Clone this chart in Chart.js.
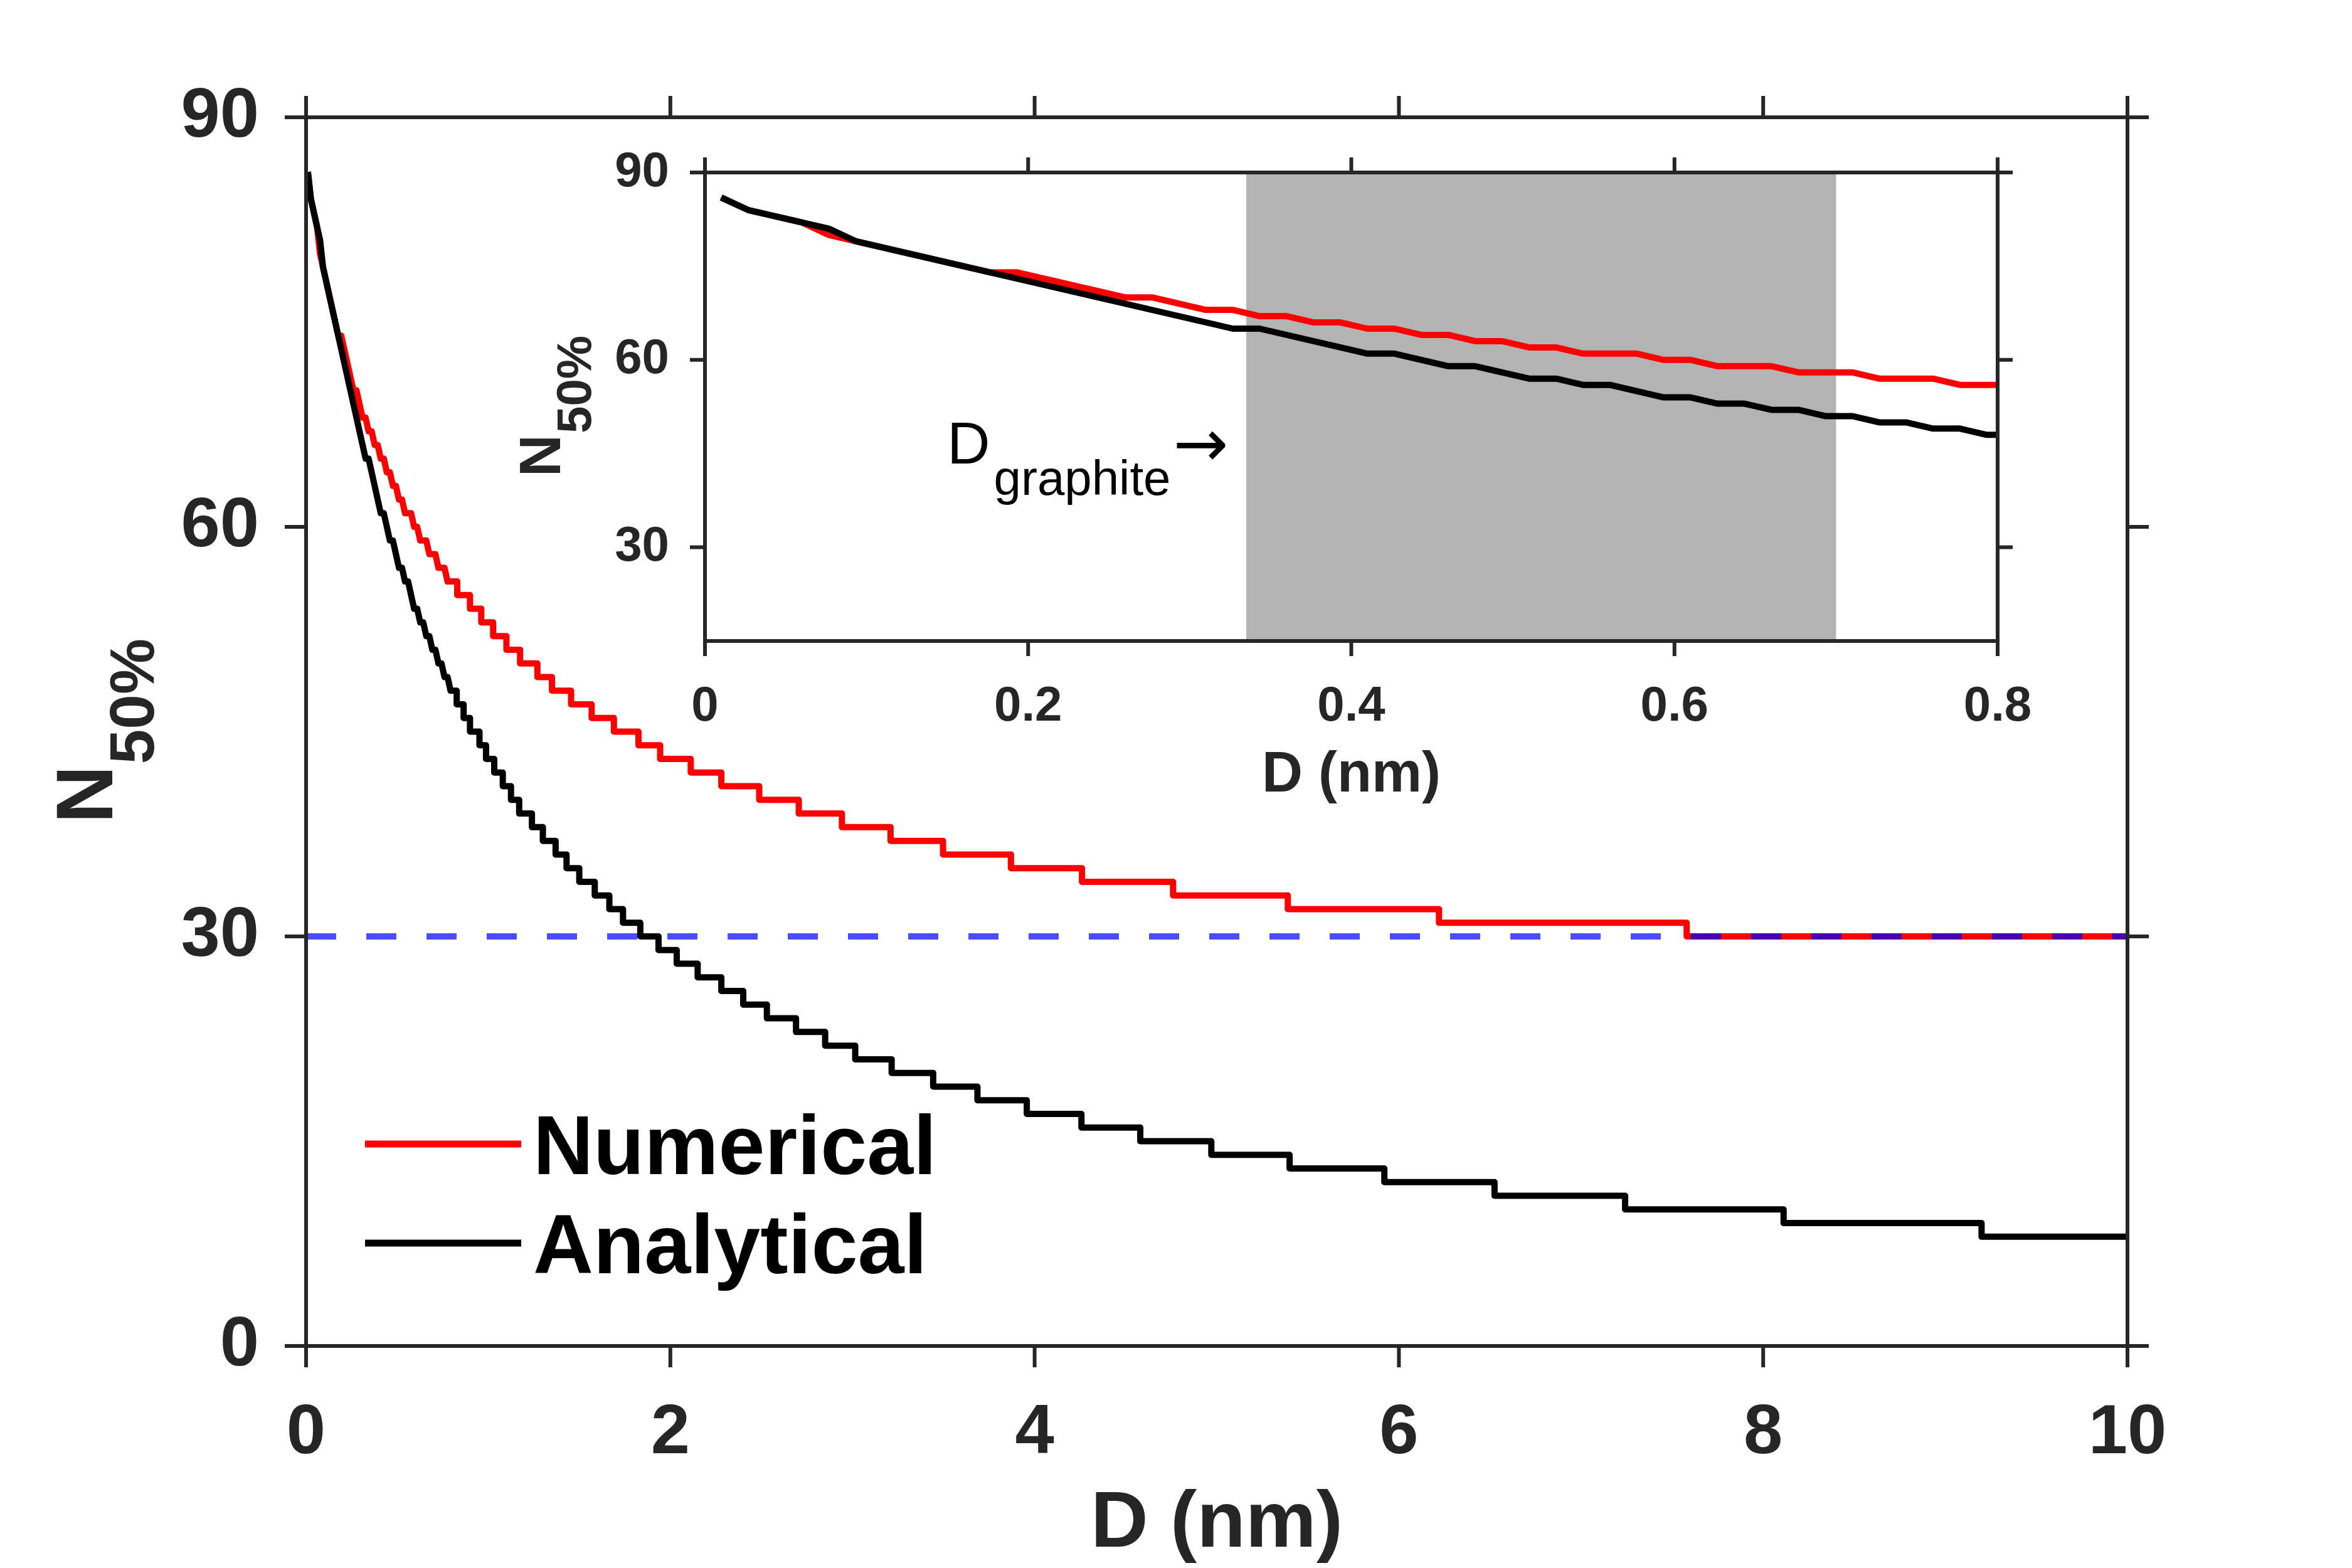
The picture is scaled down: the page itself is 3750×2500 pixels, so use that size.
<!DOCTYPE html>
<html>
<head>
<meta charset="utf-8">
<script src="https://cdn.jsdelivr.net/npm/chart.js@4.4.0/dist/chart.umd.min.js"></script>
<style>
  html, body { margin: 0; padding: 0; background: #fff; }
  #wrap { position: relative; width: 3750px; height: 2500px; }
  #main { position: absolute; left: 0; top: 0; }
  #inset { position: absolute; left: 700px; top: 150px; }
</style>
</head>
<body>
<div id="wrap">
  <canvas id="main" width="3750" height="2500"></canvas>
  <canvas id="inset" width="2600" height="1200"></canvas>
</div>
<script>
// D in nm, N50%.
// first part: sample points up to 0.8 nm (also what the inset shows)
const numHeadD = [0.01, 0.0267, 0.06, 0.0767, 0.0933, 0.1767, 0.1933, 0.26, 0.2767, 0.31,
                  0.3267, 0.3433, 0.36, 0.3767, 0.3933, 0.41, 0.4267, 0.4433, 0.46, 0.4767,
                  0.4933, 0.51, 0.5267, 0.5433, 0.5767, 0.5933, 0.61, 0.6267, 0.66, 0.6767,
                  0.71, 0.7267, 0.76, 0.7767, 0.80];
const numHeadN = [86, 84, 82, 80, 79, 74, 74, 70, 70, 68,
                  68, 67, 67, 66, 66, 65, 65, 64, 64, 63,
                  63, 62, 62, 61, 61, 60, 60, 59, 59, 58,
                  58, 57, 57, 56, 56];
// then staircase: D where the curve drops to the next N
const numStepD = [0.83, 0.90, 0.962, 1.027, 1.10, 1.175, 1.27, 1.35, 1.455, 1.568,
                  1.69, 1.825, 1.944, 2.112, 2.28, 2.488, 2.705, 2.942, 3.209, 3.497,
                  3.87, 4.26, 4.76, 5.39, 6.22, 7.58];
const numStepN = [55, 54, 53, 52, 51, 50, 49, 48, 47, 46,
                  45, 44, 43, 42, 41, 40, 39, 38, 37, 36,
                  35, 34, 33, 32, 31, 30];

const anaHeadD = [0.01, 0.0267, 0.0767, 0.0933, 0.3267, 0.3433, 0.41, 0.4267, 0.46, 0.4767,
                  0.51, 0.5267, 0.5433, 0.56, 0.5933, 0.61, 0.6267, 0.6433, 0.66, 0.6767,
                  0.6933, 0.71, 0.7267, 0.7433, 0.76, 0.7767, 0.7933];
const anaHeadN = [86, 84, 81, 79, 65, 65, 61, 61, 59, 59,
                  57, 57, 56, 56, 54, 54, 53, 53, 52, 52,
                  51, 51, 50, 50, 49, 49, 48];
const anaStepD = [0.827, 0.865, 0.90, 0.952, 0.988, 1.033, 1.08, 1.125, 1.17, 1.24,
                  1.30, 1.37, 1.43, 1.50, 1.585, 1.665, 1.74, 1.835, 1.935, 2.035,
                  2.15, 2.28, 2.40, 2.53, 2.69, 2.85, 3.015, 3.215, 3.443, 3.686,
                  3.957, 4.257, 4.58, 4.97, 5.40, 5.92, 6.525, 7.242, 8.112, 9.199];
const anaStepN = [47, 46, 45, 44, 43, 42, 41, 40, 39, 38,
                  37, 36, 35, 34, 33, 32, 31, 30, 29, 28,
                  27, 26, 25, 24, 23, 22, 21, 20, 19, 18,
                  17, 16, 15, 14, 13, 12, 11, 10, 9, 8];
const curveEndD = 10;

// N = 30 reference line
const refD = [0, 10];
const refN = [30, 30];

// graphite spacing band in the inset (nm)
const graphiteBand = [0.335, 0.70];

const mainXTicks = [0, 2, 4, 6, 8, 10];
const mainYTicks = [0, 30, 60, 90];
const insetXTicks = [0, 0.2, 0.4, 0.6, 0.8];
const insetYTicks = [30, 60, 90];

const AXIS = '#262626';
const FONT = '"Liberation Sans", Arial, Helvetica, sans-serif';

function buildCurve(headD, headN, stepD, stepN, endD) {
    const pts = headD.map((d, i) => ({x: d, y: headN[i]}));
    let prev = headN[headN.length - 1];
    stepD.forEach((d, i) => {
        pts.push({x: d, y: prev});
        pts.push({x: d, y: stepN[i]});
        prev = stepN[i];
    });
    pts.push({x: endD, y: prev});
    return pts;
}

const numPts = buildCurve(numHeadD, numHeadN, numStepD, numStepN, curveEndD);
const anaPts = buildCurve(anaHeadD, anaHeadN, anaStepD, anaStepN, curveEndD);
const refPts = refD.map((d, i) => ({x: d, y: refN[i]}));

// box round the plot with outward ticks on all four sides
const boxTicks = {
    id: 'boxTicks',
    afterDatasetsDraw(chart, args, opts) {
        const {ctx, chartArea: a, scales: {x, y}} = chart;
        ctx.save();
        ctx.strokeStyle = AXIS;
        ctx.lineWidth = opts.width;
        ctx.beginPath();
        ctx.rect(a.left, a.top, a.right - a.left, a.bottom - a.top);
        x.ticks.forEach(t => {
            const px = x.getPixelForValue(t.value);
            ctx.moveTo(px, a.bottom); ctx.lineTo(px, a.bottom + opts.len);
            ctx.moveTo(px, a.top); ctx.lineTo(px, a.top - opts.len);
        });
        y.ticks.forEach(t => {
            const py = y.getPixelForValue(t.value);
            ctx.moveTo(a.left, py); ctx.lineTo(a.left - opts.len, py);
            ctx.moveTo(a.right, py); ctx.lineTo(a.right + opts.len, py);
        });
        ctx.stroke();
        ctx.restore();
    }
};

// rotated "N" with subscript "50%"
const yTitle = {
    id: 'yTitle',
    afterDraw(chart, args, o) {
        const {ctx, chartArea: a} = chart;
        const cy = (a.top + a.bottom) / 2;
        ctx.save();
        ctx.fillStyle = AXIS;
        ctx.translate(o.x, cy);
        ctx.rotate(-Math.PI / 2);
        ctx.textBaseline = 'alphabetic';
        ctx.textAlign = 'left';
        ctx.font = 'bold ' + o.size + 'px ' + FONT;
        const wN = ctx.measureText('N').width;
        ctx.font = 'bold ' + o.subSize + 'px ' + FONT;
        const wS = ctx.measureText('50%').width;
        const start = -(wN + wS) / 2;
        ctx.font = 'bold ' + o.size + 'px ' + FONT;
        ctx.fillText('N', start, 0);
        ctx.font = 'bold ' + o.subSize + 'px ' + FONT;
        ctx.fillText('50%', start + wN + 2, o.subDrop);
        ctx.restore();
    }
};

const legendBox = {
    id: 'legendBox',
    afterDraw(chart, args, o) {
        const {ctx} = chart;
        ctx.save();
        o.items.forEach(it => {
            ctx.strokeStyle = it.color;
            ctx.lineWidth = 11;
            ctx.beginPath();
            ctx.moveTo(o.lineX0, it.y);
            ctx.lineTo(o.lineX1, it.y);
            ctx.stroke();
            ctx.fillStyle = '#000';
            ctx.font = 'bold ' + o.size + 'px ' + FONT;
            ctx.textBaseline = 'alphabetic';
            ctx.fillText(it.text, o.textX, it.y + o.baseOff);
        });
        ctx.restore();
    }
};

const band = {
    id: 'band',
    beforeDatasetsDraw(chart) {
        const {ctx, chartArea: a, scales: {x}} = chart;
        ctx.save();
        ctx.fillStyle = '#ffffff';
        ctx.fillRect(a.left, a.top, a.right - a.left, a.bottom - a.top);
        const x0 = x.getPixelForValue(graphiteBand[0]);
        const x1 = x.getPixelForValue(graphiteBand[1]);
        ctx.fillStyle = '#b3b3b3';
        ctx.fillRect(x0, a.top, x1 - x0, a.bottom - a.top);
        ctx.restore();
    }
};

const graphiteLabel = {
    id: 'graphiteLabel',
    afterDatasetsDraw(chart) {
        const {ctx, chartArea: a} = chart;
        const x0 = a.left + 386, base = a.top + 464;
        ctx.save();
        ctx.fillStyle = '#000';
        ctx.textBaseline = 'alphabetic';
        ctx.font = '95px ' + FONT;
        ctx.fillText('D', x0, base);
        const wD = ctx.measureText('D').width;
        ctx.font = '78px ' + FONT;
        ctx.fillText('graphite', x0 + wD + 6, base + 50);
        const wG = ctx.measureText('graphite').width;
        ctx.font = '105px "DejaVu Sans", sans-serif';
        ctx.textBaseline = 'middle';
        ctx.fillText('\u2192', x0 + wD + 6 + wG + 4, base - 23);
        ctx.restore();
    }
};

function tickFont(size) {
    return {family: FONT, weight: 'bold', size: size};
}

new Chart(document.getElementById('main'), {
    type: 'line',
    data: {
        datasets: [
            {label: 'N = 30', data: refPts, borderColor: 'rgba(0,0,255,0.7)', borderWidth: 10,
             borderDash: [48, 48], pointRadius: 0, order: 0},
            {label: 'Analytical', data: anaPts, borderColor: '#000000', borderWidth: 10,
             pointRadius: 0, borderJoinStyle: 'round', order: 1},
            {label: 'Numerical', data: numPts, borderColor: '#ff0000', borderWidth: 10,
             pointRadius: 0, borderJoinStyle: 'round', order: 2}
        ]
    },
    options: {
        responsive: false,
        animation: false,
        devicePixelRatio: 1,
        layout: {autoPadding: false, padding: {left: 0, right: 358, top: 187, bottom: 0}},
        elements: {line: {tension: 0}},
        scales: {
            x: {
                type: 'linear', min: 0, max: 10,
                afterBuildTicks: s => { s.ticks = mainXTicks.map(v => ({value: v})); },
                afterFit: s => { s.height = 354; },
                ticks: {color: AXIS, font: tickFont(112), padding: 73, maxRotation: 0,
                        autoSkip: false, callback: v => String(v)},
                grid: {display: false, drawTicks: false},
                border: {display: false},
                title: {display: true, text: 'D (nm)', color: AXIS,
                        font: {family: FONT, weight: 'bold', size: 127, lineHeight: 1},
                        padding: {top: 0, bottom: 6}}
            },
            y: {
                type: 'linear', min: 0, max: 90,
                afterBuildTicks: s => { s.ticks = mainYTicks.map(v => ({value: v})); },
                afterFit: s => { s.width = 488; },
                ticks: {color: AXIS, font: tickFont(112), padding: 75, autoSkip: false,
                        callback: v => String(v)},
                grid: {display: false, drawTicks: false},
                border: {display: false}
            }
        },
        plugins: {
            legend: {display: false},
            tooltip: {enabled: false},
            boxTicks: {width: 6, len: 34},
            yTitle: {x: 179, size: 128, subSize: 100, subDrop: 66},
            legendBox: {lineX0: 582, lineX1: 831, textX: 850, size: 133, baseOff: 48,
                        items: [{text: 'Numerical', color: '#ff0000', y: 1824},
                                {text: 'Analytical', color: '#000000', y: 1982}]}
        }
    },
    plugins: [boxTicks, yTitle, legendBox]
});

new Chart(document.getElementById('inset'), {
    type: 'line',
    data: {
        datasets: [
            {label: 'Analytical', data: anaPts, borderColor: '#000000', borderWidth: 10,
             pointRadius: 0, borderJoinStyle: 'round', order: 1},
            {label: 'Numerical', data: numPts, borderColor: '#ff0000', borderWidth: 10,
             pointRadius: 0, borderJoinStyle: 'round', order: 2}
        ]
    },
    options: {
        responsive: false,
        animation: false,
        devicePixelRatio: 1,
        layout: {autoPadding: false, padding: {left: 0, right: 115, top: 125, bottom: 0}},
        elements: {line: {tension: 0}},
        scales: {
            x: {
                type: 'linear', min: 0, max: 0.8,
                afterBuildTicks: s => { s.ticks = insetXTicks.map(v => ({value: v})); },
                afterFit: s => { s.height = 328; },
                ticks: {color: AXIS, font: tickFont(78), padding: 59, maxRotation: 0,
                        autoSkip: false, callback: v => String(Math.round(v * 10) / 10)},
                grid: {display: false, drawTicks: false},
                border: {display: false},
                title: {display: true, text: 'D (nm)', color: AXIS,
                        font: {family: FONT, weight: 'bold', size: 90, lineHeight: 1},
                        padding: {top: 0, bottom: 68}}
            },
            y: {
                type: 'linear', min: 15, max: 90,
                afterBuildTicks: s => { s.ticks = insetYTicks.map(v => ({value: v})); },
                afterFit: s => { s.width = 424; },
                ticks: {color: AXIS, font: tickFont(78), padding: 57, autoSkip: false,
                        callback: v => String(v)},
                grid: {display: false, drawTicks: false},
                border: {display: false}
            }
        },
        plugins: {
            legend: {display: false},
            tooltip: {enabled: false},
            boxTicks: {width: 6, len: 24},
            yTitle: {x: 193, size: 93, subSize: 78, subDrop: 49}
        }
    },
    plugins: [band, boxTicks, yTitle, graphiteLabel]
});
</script>
</body>
</html>
